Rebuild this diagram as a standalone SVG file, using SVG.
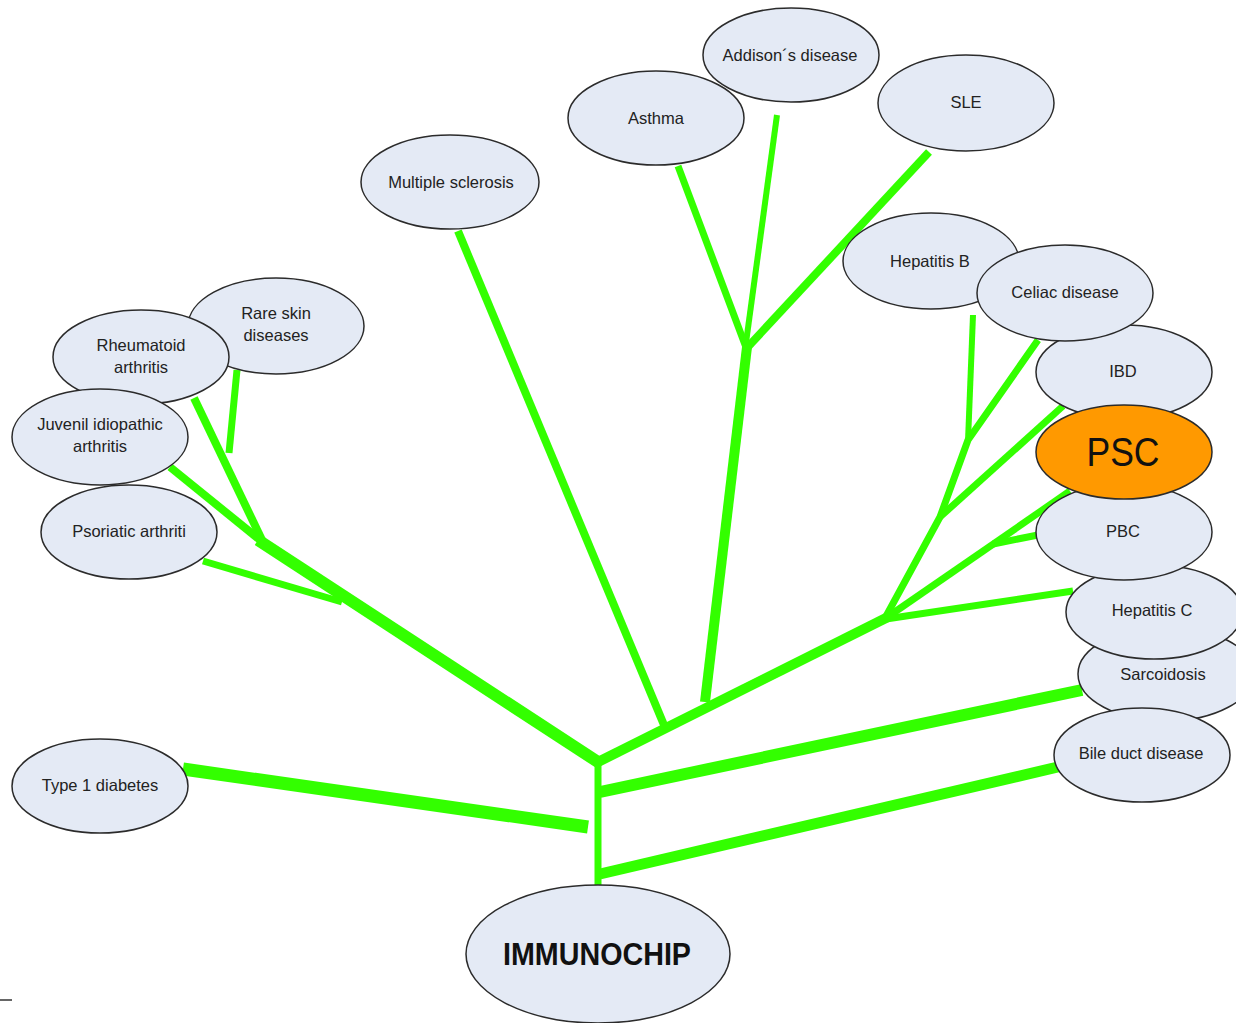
<svg xmlns="http://www.w3.org/2000/svg" width="1236" height="1023" viewBox="0 0 1236 1023">
<style>
.n{fill:#E4EAF5;stroke:#2b2b2b;stroke-width:1.5}
.psc{fill:#FF9900;stroke:#2b2b2b;stroke-width:1.5}
.t{font-family:"Liberation Sans",Arial,sans-serif;font-size:16.5px;fill:#222;text-anchor:middle}
.c line,.c polyline{stroke:#33FF00;fill:none;stroke-linecap:butt;stroke-linejoin:round}
</style>
<rect width="1236" height="1023" fill="#ffffff"/>
<g class="c" id="connectors">
<line x1="598" y1="886" x2="598" y2="758" stroke-width="7"/>
<line x1="183" y1="769" x2="588" y2="827" stroke-width="13"/>
<line x1="600" y1="792" x2="1082" y2="690" stroke-width="12"/>
<line x1="600" y1="874" x2="1058" y2="767" stroke-width="11"/>
<line x1="598" y1="762" x2="258" y2="540" stroke-width="12"/>
<line x1="262" y1="540" x2="194" y2="398" stroke-width="8"/>
<line x1="260" y1="540" x2="170" y2="467" stroke-width="8"/>
<line x1="342" y1="602" x2="203" y2="561" stroke-width="7"/>
<line x1="237" y1="370" x2="229" y2="453" stroke-width="7"/>
<line x1="458" y1="231" x2="664" y2="725" stroke-width="8"/>
<line x1="705" y1="702" x2="747" y2="347" stroke-width="10"/>
<line x1="747" y1="350" x2="678" y2="166" stroke-width="7"/>
<line x1="745" y1="350" x2="777" y2="115" stroke-width="6"/>
<line x1="745" y1="350" x2="929" y2="152" stroke-width="8"/>
<line x1="598" y1="762" x2="888" y2="617" stroke-width="10"/>
<polyline points="884,620 940,517 968,440 1038,340" stroke-width="7"/>
<line x1="940" y1="517" x2="1063" y2="406" stroke-width="7"/>
<line x1="973" y1="315" x2="968" y2="441" stroke-width="6"/>
<line x1="886" y1="618" x2="1070" y2="491" stroke-width="7"/>
<line x1="993" y1="544" x2="1038" y2="535" stroke-width="7"/>
<line x1="886" y1="619" x2="1073" y2="591" stroke-width="7"/>
</g>
<line x1="0" y1="1000" x2="12" y2="1000" stroke="#333" stroke-width="1.5"/>
<g id="multiple-sclerosis"><ellipse class="n" cx="450" cy="182" rx="89" ry="47"/><text class="t" x="451" y="188">Multiple sclerosis</text></g>
<g id="asthma"><ellipse class="n" cx="656" cy="118" rx="88" ry="47"/><text class="t" x="656" y="124">Asthma</text></g>
<g id="addison"><ellipse class="n" cx="791" cy="55" rx="88" ry="47"/><text class="t" x="790" y="61">Addison´s disease</text></g>
<g id="sle"><ellipse class="n" cx="966" cy="103" rx="88" ry="48"/><text class="t" x="966" y="108">SLE</text></g>
<g id="rare-skin"><ellipse class="n" cx="276" cy="326" rx="88" ry="48"/><text class="t" x="276" y="319">Rare skin</text><text class="t" x="276" y="341">diseases</text></g>
<g id="rheumatoid"><ellipse class="n" cx="141" cy="357" rx="88" ry="47"/><text class="t" x="141" y="351">Rheumatoid</text><text class="t" x="141" y="373">arthritis</text></g>
<g id="juvenil"><ellipse class="n" cx="100" cy="437" rx="88" ry="48"/><text class="t" x="100" y="430">Juvenil idiopathic</text><text class="t" x="100" y="452">arthritis</text></g>
<g id="psoriatic"><ellipse class="n" cx="129" cy="532" rx="88" ry="47"/><text class="t" x="129" y="537">Psoriatic arthriti</text></g>
<g id="hepatitis-b"><ellipse class="n" cx="931" cy="261" rx="88" ry="48"/><text class="t" x="930" y="267">Hepatitis B</text></g>
<g id="ibd"><ellipse class="n" cx="1124" cy="372" rx="88" ry="47"/><text class="t" x="1123" y="377">IBD</text></g>
<g id="celiac"><ellipse class="n" cx="1065" cy="293" rx="88" ry="48"/><text class="t" x="1065" y="298">Celiac disease</text></g>
<g id="sarcoidosis"><ellipse class="n" cx="1166" cy="674" rx="88" ry="47"/><text class="t" x="1163" y="680">Sarcoidosis</text></g>
<g id="hepatitis-c"><ellipse class="n" cx="1154" cy="612" rx="88" ry="47"/><text class="t" x="1152" y="616">Hepatitis C</text></g>
<g id="pbc"><ellipse class="n" cx="1124" cy="532" rx="88" ry="48"/><text class="t" x="1123" y="537">PBC</text></g>
<g id="psc"><ellipse class="psc" cx="1124" cy="452" rx="88" ry="47"/><text x="1123" y="466" font-family="Liberation Sans, Arial, sans-serif" font-size="40" fill="#111" text-anchor="middle" textLength="73" lengthAdjust="spacingAndGlyphs">PSC</text></g>
<g id="bile-duct"><ellipse class="n" cx="1142" cy="755" rx="88" ry="47"/><text class="t" x="1141" y="759">Bile duct disease</text></g>
<g id="type1"><ellipse class="n" cx="100" cy="786" rx="88" ry="47"/><text class="t" x="100" y="791">Type 1 diabetes</text></g>
<g id="immunochip"><ellipse class="n" cx="598" cy="954" rx="132" ry="69"/><text x="597" y="965" font-family="Liberation Sans, Arial, sans-serif" font-size="31" font-weight="bold" fill="#111" text-anchor="middle" textLength="188" lengthAdjust="spacingAndGlyphs">IMMUNOCHIP</text></g>
</svg>
